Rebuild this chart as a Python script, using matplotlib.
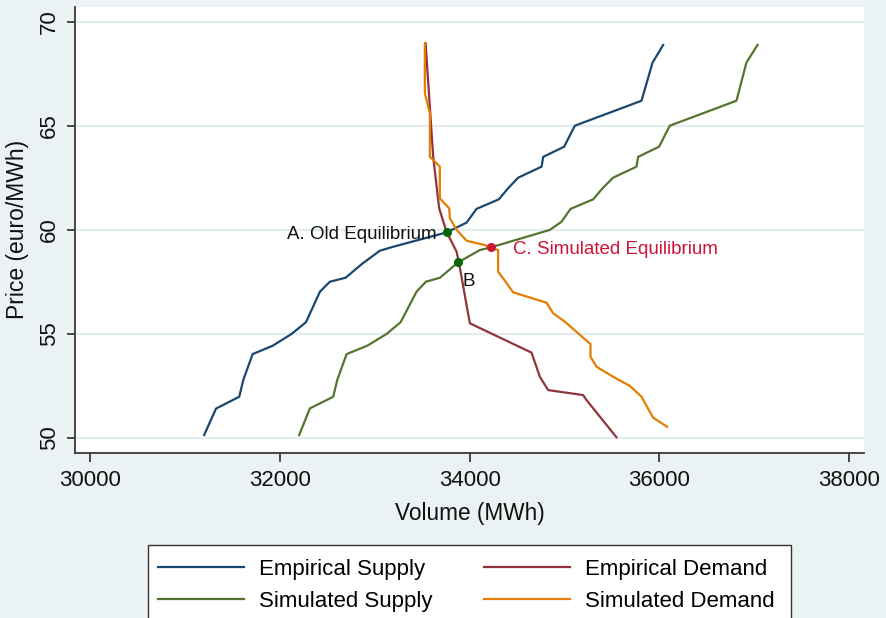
import matplotlib
matplotlib.use("Agg")
import matplotlib.pyplot as plt
from matplotlib.patches import Rectangle

plt.rcParams['font.family'] = ['Liberation Sans', 'DejaVu Sans']

# ---- data ----
emp_supply_x = [31200, 31325, 31570, 31612, 31711, 31922, 32122, 32273, 32421, 32526,
                32691, 32871, 33053, 33193, 33756, 33967, 34072, 34307, 34405, 34511,
                34758, 34775, 34996, 35109, 35812, 35928, 36040]
emp_supply_y = [50.13, 51.40, 51.97, 52.77, 54.02, 54.42, 54.99, 55.55, 57.02, 57.50,
                57.69, 58.38, 58.99, 59.18, 59.87, 60.34, 61.00, 61.46, 61.99, 62.50,
                63.03, 63.50, 63.99, 65.00, 66.20, 68.03, 68.88]

sim_supply_x = [32202, 32315, 32561, 32603, 32702, 32919, 33124, 33271, 33440, 33538,
                33686, 33878, 34107, 34223, 34845, 34968, 35063, 35302, 35401, 35512,
                35759, 35776, 35997, 36110, 36813, 36918, 37035]
sim_supply_y = [50.13, 51.41, 51.97, 52.77, 54.02, 54.42, 54.99, 55.55, 57.02, 57.50,
                57.69, 58.43, 59.02, 59.15, 59.99, 60.38, 61.00, 61.46, 61.99, 62.50,
                63.03, 63.50, 63.99, 65.00, 66.20, 68.03, 68.88]

emp_demand_x = [33535, 33615, 33678, 33756, 33862, 33886, 34002, 34652, 34740, 34827,
                35196, 35232, 35548]
emp_demand_y = [68.96, 63.51, 61.03, 59.90, 58.94, 58.43, 55.50, 54.09, 52.93, 52.29,
                52.05, 51.81, 50.02]

sim_demand_x = [33527, 33527, 33580, 33580, 33685, 33685, 33784, 33791, 33862, 33967,
                34160, 34223, 34300, 34300, 34371, 34458, 34810, 34880, 35003, 35274,
                35274, 35338, 35513, 35689, 35812, 35934, 36082]
sim_demand_y = [68.96, 66.56, 65.60, 63.51, 63.03, 61.51, 61.03, 60.55, 59.99, 59.47,
                59.26, 59.15, 59.02, 57.98, 57.55, 56.99, 56.49, 55.98, 55.58, 54.50,
                53.89, 53.41, 52.93, 52.49, 51.97, 50.96, 50.53]

eq_old = (33756, 59.87)
eq_b = (33878, 58.43)
eq_sim = (34223, 59.15)

x_ticks = [30000, 32000, 34000, 36000, 38000]
y_ticks = [50, 55, 60, 65, 70]

series_labels = ["Empirical Supply", "Empirical Demand", "Simulated Supply", "Simulated Demand"]
# --------------------------------------

BG = '#EAF2F3'
fig = plt.figure(figsize=(8.86, 6.18), dpi=100, facecolor=BG)
ax = fig.add_axes([75/886, 1 - 452.7/618, (864 - 75)/886, (452.7 - 6.7)/618])
ax.set_facecolor('white')

lw = 1.6
l1, = ax.plot(emp_supply_x, emp_supply_y, color='#1a476f', lw=lw, zorder=3)
l2, = ax.plot(emp_demand_x, emp_demand_y, color='#90353b', lw=lw, zorder=3)
l3, = ax.plot(sim_supply_x, sim_supply_y, color='#55752f', lw=lw, zorder=3)
l4, = ax.plot(sim_demand_x, sim_demand_y, color='#e37e00', lw=lw, zorder=3)

green = '#0a650a'
crim = '#cc1339'
ax.plot([eq_old[0]], [eq_old[1]], 'o', color=green, ms=5.5, zorder=5)
ax.plot([eq_b[0]], [eq_b[1]], 'o', color=green, ms=5.5, zorder=5)
ax.plot([eq_sim[0]], [eq_sim[1]], 'o', color=crim, ms=5.5, zorder=5)

ax.annotate("A. Old Equilibrium", xy=eq_old, xytext=(-7, -4.8), textcoords='offset points',
            ha='right', va='baseline', fontsize=13.5, color='#111111')
ax.annotate("B", xy=eq_b, xytext=(3, -16.8), textcoords='offset points',
            ha='left', va='baseline', fontsize=13.5, color='#111111')
ax.annotate("C. Simulated Equilibrium", xy=eq_sim, xytext=(16, -5), textcoords='offset points',
            ha='left', va='baseline', fontsize=13.5, color=crim)

ax.set_xlim(29838, 38158)
ax.set_ylim(49.28, 70.72)
ax.set_xticks(x_ticks)
ax.set_yticks(y_ticks)
ax.set_xticklabels([str(v) for v in x_ticks])
ax.set_yticklabels([str(v) for v in y_ticks])

ax.yaxis.grid(True, color='#E3EDEF', lw=1.6, zorder=0)
ax.xaxis.grid(False)
ax.set_axisbelow(True)

for s in ['top', 'right']:
    ax.spines[s].set_visible(False)
for s in ['left', 'bottom']:
    ax.spines[s].set_color('#3a3a3a')
    ax.spines[s].set_linewidth(1.3)

ax.tick_params(axis='x', length=6.5, width=1.3, color='#3a3a3a', labelsize=16,
               pad=6, labelcolor='#111111')
ax.tick_params(axis='y', length=5.8, width=1.3, color='#3a3a3a', labelsize=16,
               pad=5, labelcolor='#111111', labelrotation=90)
for t in ax.get_yticklabels():
    t.set_va('center')

ax.set_xlabel("Volume (MWh)", fontsize=16.3, color='#111111', labelpad=8)
ax.set_ylabel("Price (euro/MWh)", fontsize=16.5, color='#111111', labelpad=7)

# legend box extending past the bottom edge
fig.add_artist(Rectangle((148/886, -0.05), (791 - 148)/886, (618 - 545)/618 + 0.05,
                         transform=fig.transFigure, facecolor='white',
                         edgecolor='#333333', lw=1.0, zorder=1))
# row-major order: (Emp Supply, Emp Demand) / (Sim Supply, Sim Demand)
handles = [l1, l3, l2, l4]
labels = [series_labels[0], series_labels[2], series_labels[1], series_labels[3]]
leg = fig.legend(handles, labels, ncol=2, loc='upper left',
                 bbox_to_anchor=(158/886, 1 - 559/618), frameon=False, fontsize=16,
                 handlelength=3.87, handletextpad=0.68, columnspacing=2.3,
                 labelspacing=0.48, borderpad=0, borderaxespad=0)
leg.set_zorder(2)

fig.savefig("out.png", dpi=100, facecolor=BG)
